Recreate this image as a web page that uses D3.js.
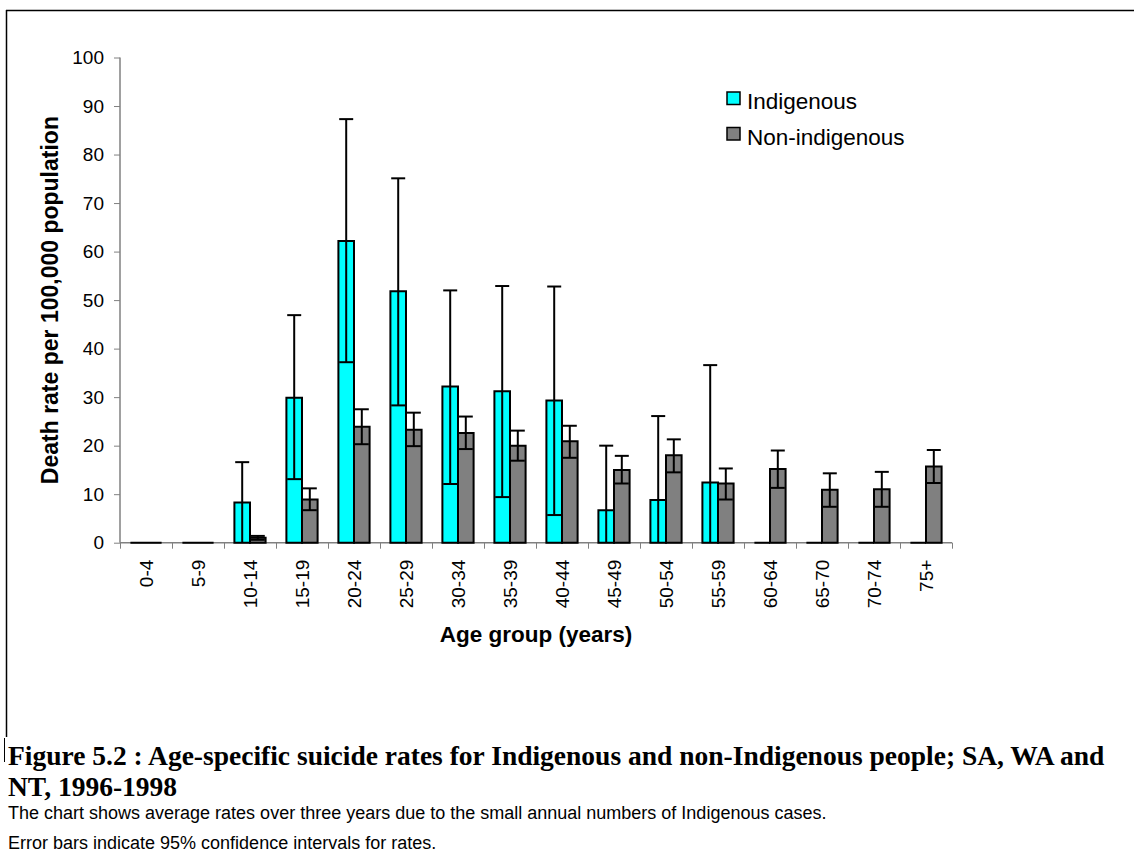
<!DOCTYPE html>
<html>
<head>
<meta charset="utf-8">
<script src="https://cdn.jsdelivr.net/npm/d3@7"></script>
<style>
  body { margin: 0; background: #fff; }
  svg { display: block; }
  .axis path, .axis line { stroke: #808080; }
  .axis text { font-family: Arial, "Liberation Sans", sans-serif; font-size: 19px; fill: #000; }
</style>
</head>
<body>
<div id="chart"></div>
<script>
// age groups and rates (per 100,000)
const ages = ["0-4", "5-9", "10-14", "15-19", "20-24", "25-29", "30-34", "35-39",
              "40-44", "45-49", "50-54", "55-59", "60-64", "65-70", "70-74", "75+"];

const indigenous     = [0, 0, 8.3, 29.9, 62.2, 51.8, 32.2, 31.2, 29.3, 6.7, 8.8, 12.4, 0, 0, 0, 0];
const indigenousLow  = [0, 0, 0, 13.1, 37.2, 28.3, 12.1, 9.4, 5.7, 0, 0, 0, 0, 0, 0, 0];
const indigenousHigh = [0, 0, 16.6, 46.9, 87.3, 75.1, 52.0, 52.9, 52.8, 20.0, 26.1, 36.6, 0, 0, 0, 0];

const nonIndigenous     = [0, 0, 1.0, 8.9, 23.9, 23.3, 22.6, 20.0, 20.9, 15.0, 18.0, 12.2, 15.2, 10.9, 11.0, 15.7];
const nonIndigenousLow  = [0, 0, 0.6, 6.7, 20.3, 19.9, 19.3, 16.9, 17.5, 12.2, 14.5, 8.9, 11.3, 7.4, 7.4, 12.3];
const nonIndigenousHigh = [0, 0, 1.4, 11.2, 27.5, 26.8, 26.0, 23.1, 24.1, 17.9, 21.3, 15.3, 19.0, 14.3, 14.6, 19.1];

const seriesNames = ["Indigenous", "Non-indigenous"];
const yTicks = [0, 10, 20, 30, 40, 50, 60, 70, 80, 90, 100];

const width = 1134, height = 855;
const margin = {top: 57.5, left: 120, right: 182, bottom: 312.3};
const plotW = width - margin.left - margin.right;
const plotH = height - margin.top - margin.bottom;

const svg = d3.select("#chart").append("svg")
    .attr("width", width)
    .attr("height", height);

// frame lines round the chart area
svg.append("line")
    .attr("x1", 6).attr("x2", width).attr("y1", 10.5).attr("y2", 10.5)
    .attr("stroke", "#000").attr("stroke-width", 1.5);
svg.append("line")
    .attr("x1", 6.5).attr("x2", 6.5).attr("y1", 10).attr("y2", 737)
    .attr("stroke", "#000").attr("stroke-width", 1.5);
svg.append("line")
    .attr("x1", 4.5).attr("x2", 4.5).attr("y1", 738).attr("y2", 762)
    .attr("stroke", "#000").attr("stroke-width", 1);

const g = svg.append("g")
    .attr("transform", "translate(" + margin.left + "," + margin.top + ")");

// scales
const x0 = d3.scaleBand()
    .domain(ages)
    .range([0, plotW])
    .paddingInner(0.4)
    .paddingOuter(0.2);

const x1 = d3.scaleBand()
    .domain(seriesNames)
    .range([0, x0.bandwidth()]);

const xEdge = d3.scaleLinear()
    .domain([0, ages.length])
    .range([0, plotW]);

const y = d3.scaleLinear()
    .domain([0, 100])
    .range([plotH, 0]);

const color = d3.scaleOrdinal()
    .domain(seriesNames)
    .range(["#00ffff", "#808080"]);

// y axis
g.append("g")
    .attr("class", "axis y-axis")
    .call(d3.axisLeft(y).tickValues(yTicks).tickSize(6).tickPadding(10))
    .call(a => a.select(".domain").attr("stroke-width", 1.5).attr("d", "M0," + plotH + "V0"));

// x axis: boundary ticks, then labels at category centres
g.append("g")
    .attr("class", "axis x-axis")
    .attr("transform", "translate(0," + plotH + ")")
    .call(d3.axisBottom(xEdge).ticks(ages.length).tickSize(6).tickFormat(""))
    .call(a => a.select(".domain").attr("stroke-width", 1.5).attr("d", "M0,0H" + plotW));

g.append("g")
    .attr("class", "axis x-labels")
    .selectAll("text")
    .data(ages)
    .join("text")
    .attr("transform", d => "translate(" + (x0(d) + x0.bandwidth() / 2) + "," + (plotH + 17) + ") rotate(-90)")
    .attr("text-anchor", "end")
    .attr("dy", "0.35em")
    .text(d => d);

// build rows per series
const rows = ages.map((a, i) => [
    {age: a, key: "Indigenous", v: indigenous[i], lo: indigenousLow[i], hi: indigenousHigh[i]},
    {age: a, key: "Non-indigenous", v: nonIndigenous[i], lo: nonIndigenousLow[i], hi: nonIndigenousHigh[i]}
]).flat();

// bars as paths so zero-height bars still show their outline
g.selectAll(".bar")
    .data(rows)
    .join("path")
    .attr("class", "bar")
    .attr("d", d => {
        let bx = x0(d.age) + x1(d.key);
        let bw = x1.bandwidth();
        return "M" + bx + "," + y(0) + "V" + y(d.v) + "H" + (bx + bw) + "V" + y(0) + "Z";
    })
    .attr("fill", d => color(d.key))
    .attr("stroke", "#000")
    .attr("stroke-width", 2);

// error bars
const errRows = rows.filter(d => d.v > 0);
const capHalf = 7;

const err = g.selectAll(".err")
    .data(errRows)
    .join("g")
    .attr("class", "err")
    .attr("transform", d => "translate(" + (x0(d.age) + x1(d.key) + x1.bandwidth() / 2) + ",0)");

err.append("line")
    .attr("y1", d => y(d.lo))
    .attr("y2", d => y(d.hi))
    .attr("stroke", "#000")
    .attr("stroke-width", 2);

err.append("line")
    .attr("x1", -capHalf).attr("x2", capHalf)
    .attr("y1", d => y(d.hi)).attr("y2", d => y(d.hi))
    .attr("stroke", "#000")
    .attr("stroke-width", 2);

err.filter(d => d.lo > 0).append("line")
    .attr("x1", -capHalf).attr("x2", capHalf)
    .attr("y1", d => y(d.lo)).attr("y2", d => y(d.lo))
    .attr("stroke", "#000")
    .attr("stroke-width", 2);

// axis titles
svg.append("text")
    .attr("x", margin.left + plotW / 2)
    .attr("y", 642)
    .attr("text-anchor", "middle")
    .style("font-family", "Arial, 'Liberation Sans', sans-serif")
    .style("font-weight", "bold")
    .style("font-size", "22.5px")
    .text("Age group (years)");

svg.append("text")
    .attr("transform", "translate(58," + (margin.top + plotH / 2) + ") rotate(-90)")
    .attr("text-anchor", "middle")
    .style("font-family", "Arial, 'Liberation Sans', sans-serif")
    .style("font-weight", "bold")
    .style("font-size", "23px")
    .text("Death rate per 100,000 population");

// legend
const legend = svg.append("g")
    .attr("transform", "translate(727,92)");

const item = legend.selectAll("g")
    .data(seriesNames)
    .join("g")
    .attr("transform", (d, i) => "translate(0," + (i * 35.5) + ")");

item.append("rect")
    .attr("width", 13).attr("height", 12.5)
    .attr("fill", d => color(d))
    .attr("stroke", "#000")
    .attr("stroke-width", 1.5);

item.append("text")
    .attr("x", 20)
    .attr("y", 17)
    .style("font-family", "Arial, 'Liberation Sans', sans-serif")
    .style("font-size", "22.5px")
    .text(d => d);

// caption
const caption = svg.append("text")
    .style("font-family", "'Liberation Serif', 'Times New Roman', serif")
    .style("font-weight", "bold")
    .style("font-size", "27.5px");
caption.append("tspan").attr("x", 8).attr("y", 765)
    .text("Figure 5.2 : Age-specific suicide rates for Indigenous and non-Indigenous people; SA, WA and");
caption.append("tspan").attr("x", 8).attr("y", 796)
    .text("NT, 1996-1998");

const notes = svg.append("g")
    .style("font-family", "Arial, 'Liberation Sans', sans-serif")
    .style("font-size", "18px");
notes.append("text").attr("x", 8).attr("y", 819)
    .text("The chart shows average rates over three years due to the small annual numbers of Indigenous cases.");
notes.append("text").attr("x", 8).attr("y", 849)
    .text("Error bars indicate 95% confidence intervals for rates.");
</script>
</body>
</html>
